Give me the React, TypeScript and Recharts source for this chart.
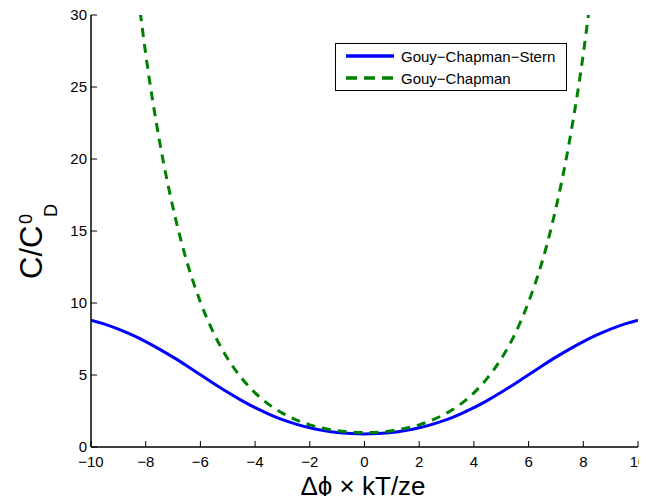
import React from 'react';
import { LineChart, Line, XAxis, YAxis, Legend } from 'recharts';

// potential grid (dimensionless) and capacitance ratios
const phi = [
  -10, -9.5, -9, -8.5, -8, -7.5, -7, -6.5, -6, -5.5, -5, -4.5, -4, -3.5, -3, -2.5, -2, -1.5, -1, -0.5,
  0, 0.5, 1, 1.5, 2, 2.5, 3, 3.5, 4, 4.5, 5, 5.5, 6, 6.5, 7, 7.5, 8, 8.5, 9, 9.5, 10,
];
const gcsValues = [
  8.81, 8.53, 8.18, 7.78, 7.32, 6.8, 6.24, 5.64, 5.02, 4.4, 3.8, 3.24, 2.73, 2.29, 1.9, 1.59, 1.34, 1.15, 1.01, 0.94,
  0.91, 0.94, 1.01, 1.15, 1.34, 1.59, 1.9, 2.29, 2.73, 3.24, 3.8, 4.4, 5.02, 5.64, 6.24, 6.8, 7.32, 7.78, 8.18, 8.53, 8.81,
];

const gcPhi = [
  -8.2, -8, -7.5, -7, -6.5, -6, -5.5, -5, -4.5, -4, -3.5, -3, -2.5, -2, -1.5, -1, -0.5,
  0, 0.5, 1, 1.5, 2, 2.5, 3, 3.5, 4, 4.5, 5, 5.5, 6, 6.5, 7, 7.5, 8, 8.2,
];
const gcValues = [
  30.2, 27.3, 21.3, 16.6, 12.9, 10.07, 7.85, 6.13, 4.8, 3.76, 2.96, 2.35, 1.89, 1.54, 1.3, 1.13, 1.03,
  1.0, 1.03, 1.13, 1.3, 1.54, 1.89, 2.35, 2.96, 3.76, 4.8, 6.13, 7.85, 10.07, 12.9, 16.6, 21.3, 27.3, 30.2,
];

const xTicks = [-10, -8, -6, -4, -2, 0, 2, 4, 6, 8, 10];
const yTicks = [0, 5, 10, 15, 20, 25, 30];

const legendItems = ['Gouy\u2212Chapman\u2212Stern', 'Gouy\u2212Chapman'];

const gcsData = phi.map((x, i) => ({ x, c: gcsValues[i] }));
const gcData = gcPhi.map((x, i) => ({ x, c: gcValues[i] }));

const font = '"Liberation Sans", Arial, Helvetica, sans-serif';
const BLUE = '#0000ff';
const GREEN = '#008000';
const TICK = 6;

const fmt = (v: number) => String(v).replace('-', '\u2212');
const axisLine = { stroke: '#000', strokeWidth: 1.5 };

// MATLAB style: tick marks point into the plot, labels sit outside
const BottomTick = ({ x, y, payload }: any) => (
  <g>
    <line x1={x} x2={x} y1={y} y2={y - TICK} stroke="#000" strokeWidth={1} />
    <text x={x} y={y + 20} textAnchor="middle" fontFamily={font} fontSize={15} fill="#000">
      {fmt(payload.value)}
    </text>
  </g>
);

const TopTick = ({ x, y }: any) => (
  <line x1={x} x2={x} y1={y} y2={y + TICK} stroke="#000" strokeWidth={1} />
);

const LeftTick = ({ x, y, payload }: any) => (
  <g>
    <line x1={x} x2={x + TICK} y1={y} y2={y} stroke="#000" strokeWidth={1} />
    <text x={x - 4} y={y + 5} textAnchor="end" fontFamily={font} fontSize={15} fill="#000">
      {fmt(payload.value)}
    </text>
  </g>
);

const RightTick = ({ x, y }: any) => (
  <line x1={x} x2={x - TICK} y1={y} y2={y} stroke="#000" strokeWidth={1} />
);

const LegendBox = () => (
  <div
    style={{
      position: 'relative',
      width: 232,
      height: 48,
      boxSizing: 'border-box',
      border: '1.3px solid #000',
      background: '#fff',
      fontFamily: font,
      fontSize: 15,
      color: '#000',
    }}
  >
    {legendItems.map((name, i) => (
      <div key={name} style={{ position: 'absolute', left: 9, top: 2 + i * 22, height: 20, display: 'flex', alignItems: 'center' }}>
        <svg width={50} height={6} style={{ display: 'block' }}>
          <line
            x1={1}
            y1={3}
            x2={49}
            y2={3}
            stroke={i === 0 ? BLUE : GREEN}
            strokeWidth={3.5}
            strokeDasharray={i === 0 ? undefined : '11 7'}
          />
        </svg>
        <span style={{ marginLeft: 6, whiteSpace: 'nowrap' }}>{name}</span>
      </div>
    ))}
  </div>
);

const YLabel = () => (
  <text transform="rotate(-90)" fontFamily={font} fontSize={31} fill="#000">
    <tspan x={-279} y={42}>C/C</tspan>
    <tspan x={-224} y={32} fontSize={18}>0</tspan>
    <tspan x={-217} y={57} fontSize={18}>D</tspan>
  </text>
);

const XLabel = () => (
  <text x={363} y={495} textAnchor="middle" fontFamily={font} fontSize={26} fill="#000">
    {'\u0394\u03d5 \u00d7 kT/ze'}
  </text>
);

export default function App() {
  // cancel the body margin so the chart can use the whole window
  return (
    <div style={{ margin: -8 }}>
      <LineChart width={647} height={504} margin={{ top: 15, right: 9, left: 0, bottom: 0 }} style={{ overflow: 'visible' }}>
        <XAxis
          dataKey="x"
          type="number"
          domain={[-10, 10]}
          ticks={xTicks}
          allowDataOverflow
          tickSize={0}
          tickMargin={0}
          tickLine={false}
          height={57}
          axisLine={axisLine}
          tick={<BottomTick />}
          interval={0}
          label={{ content: () => <XLabel /> }}
        />
        <XAxis
          xAxisId="top"
          orientation="top"
          dataKey="x"
          type="number"
          domain={[-10, 10]}
          ticks={xTicks}
          allowDataOverflow
          tickSize={0}
          tickMargin={0}
          tickLine={false}
          height={0}
          axisLine={axisLine}
          tick={<TopTick />}
          interval={0}
        />
        <YAxis
          type="number"
          domain={[0, 30]}
          ticks={yTicks}
          allowDataOverflow
          tickSize={0}
          tickMargin={0}
          tickLine={false}
          width={91}
          axisLine={axisLine}
          tick={<LeftTick />}
          interval={0}
          label={{ content: () => <YLabel /> }}
        />
        <YAxis
          yAxisId="right"
          orientation="right"
          type="number"
          domain={[0, 30]}
          ticks={yTicks}
          allowDataOverflow
          tickSize={0}
          tickMargin={0}
          tickLine={false}
          width={0}
          axisLine={axisLine}
          tick={<RightTick />}
          interval={0}
        />
        <Legend
          layout="vertical"
          align="center"
          verticalAlign="middle"
          wrapperStyle={{ left: 335, top: 43, width: 232, height: 48 }}
          content={() => <LegendBox />}
        />
        <Line
          data={gcsData}
          dataKey="c"
          type="monotone"
          stroke={BLUE}
          strokeWidth={3}
          dot={false}
          isAnimationActive={false}
        />
        <Line
          data={gcData}
          dataKey="c"
          type="monotone"
          stroke={GREEN}
          strokeWidth={3}
          strokeDasharray="9 7"
          dot={false}
          isAnimationActive={false}
        />
      </LineChart>
    </div>
  );
}
